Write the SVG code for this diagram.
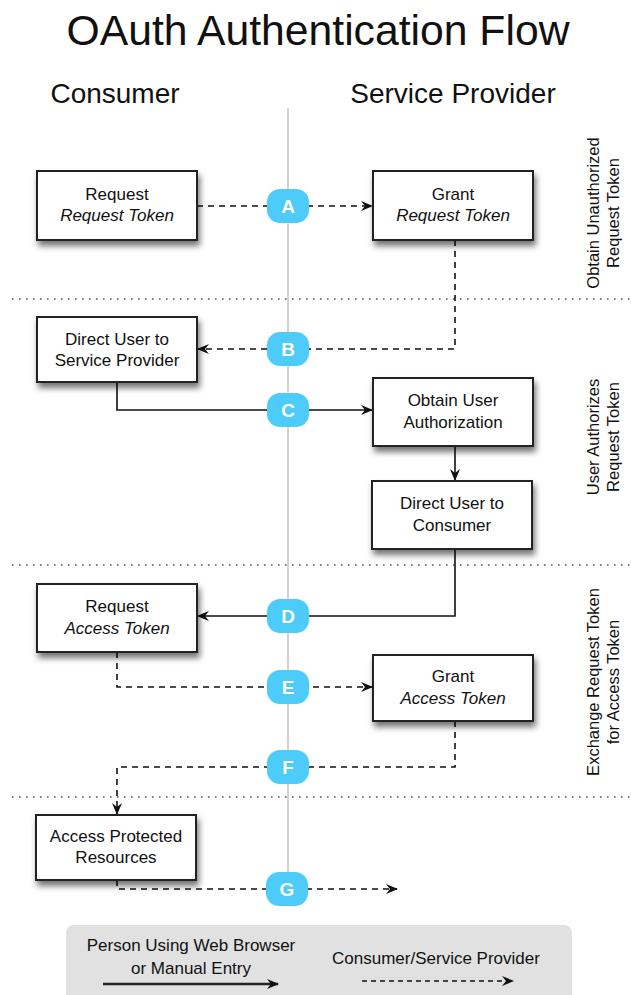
<svg xmlns="http://www.w3.org/2000/svg" width="631" height="995" viewBox="0 0 631 995">
<defs>
<filter id="sh" x="-20%" y="-20%" width="150%" height="160%">
<feDropShadow dx="2" dy="5" stdDeviation="3" flood-color="#000" flood-opacity="0.55"/>
</filter>
<marker id="ah" viewBox="0 0 12 10" markerWidth="12" markerHeight="10" refX="11" refY="5" orient="auto" markerUnits="userSpaceOnUse">
<path d="M0,0 L12,5 L0,10 L4,5 z" fill="#111"/>
</marker>
</defs>
<style>
text{font-family:"Liberation Sans",Arial,Helvetica,sans-serif;fill:#111}
.box{fill:#fff;stroke:#222;stroke-width:2;filter:url(#sh)}
.bt{font-size:17px;text-anchor:middle}
.it{font-style:italic}
.sep{stroke:#555;stroke-width:1.6;stroke-dasharray:1.6 5.4;fill:none}
.dash{fill:none;stroke:#111;stroke-width:1.6;stroke-dasharray:6 5}
.solid{fill:none;stroke:#111;stroke-width:1.6}
.pill{fill:#4DCCFA}
.pl{font-size:19px;font-weight:bold;fill:#fff;text-anchor:middle}
.side{font-size:16.5px;text-anchor:middle}
</style>
<text x="318" y="45" font-size="42" text-anchor="middle" textLength="503" lengthAdjust="spacingAndGlyphs">OAuth Authentication Flow</text>
<text x="115" y="103" font-size="28" text-anchor="middle">Consumer</text>
<text x="453" y="103" font-size="28" text-anchor="middle">Service Provider</text>
<line x1="288" y1="108" x2="288" y2="880" stroke="#d2d2d2" stroke-width="2"/>
<g id="separators">
<line class="sep" x1="12" y1="299" x2="631" y2="299"/>
<line class="sep" x1="12" y1="565" x2="631" y2="565"/>
<line class="sep" x1="12" y1="797" x2="631" y2="797"/>
</g>
<g id="phase-labels">
<text class="side" transform="translate(599,213) rotate(-90)">Obtain Unauthorized</text>
<text class="side" transform="translate(619,213) rotate(-90)">Request Token</text>
<text class="side" transform="translate(599,437) rotate(-90)">User Authorizes</text>
<text class="side" transform="translate(619,437) rotate(-90)">Request Token</text>
<text class="side" transform="translate(599,682) rotate(-90)">Exchange Request Token</text>
<text class="side" transform="translate(619,682) rotate(-90)">for Access Token</text>
</g>
<g id="connectors">
<path class="dash" d="M197,206 H372" marker-end="url(#ah)"/>
<path class="dash" d="M455,240 V349 H198" marker-end="url(#ah)"/>
<path class="solid" d="M117,382 V410 H372" marker-end="url(#ah)"/>
<path class="solid" d="M455,446 V480" marker-end="url(#ah)"/>
<path class="solid" d="M455,549 V616 H198" marker-end="url(#ah)"/>
<path class="dash" d="M117,652 V687 H372" marker-end="url(#ah)"/>
<path class="dash" d="M455,721 V767 H117 V814" marker-end="url(#ah)"/>
<path class="dash" d="M117,880 V889 H397" marker-end="url(#ah)"/>
</g>
<g id="labels">
<rect class="pill" x="267" y="189" width="42" height="34" rx="13"/><text class="pl" x="288" y="213">A</text>
<rect class="pill" x="267" y="332" width="42" height="34" rx="13"/><text class="pl" x="288" y="356">B</text>
<rect class="pill" x="267" y="393" width="42" height="34" rx="13"/><text class="pl" x="288" y="417">C</text>
<rect class="pill" x="267" y="599" width="42" height="34" rx="13"/><text class="pl" x="288" y="623">D</text>
<rect class="pill" x="267" y="670" width="42" height="34" rx="13"/><text class="pl" x="288" y="694">E</text>
<rect class="pill" x="267" y="750" width="42" height="34" rx="13"/><text class="pl" x="288" y="774">F</text>
<rect class="pill" x="266" y="872" width="42" height="34" rx="13"/><text class="pl" x="287" y="896">G</text>
</g>
<g id="request-request-token">
<rect class="box" x="37" y="171" width="160" height="69"/>
<text class="bt" x="117" y="200">Request</text>
<text class="bt it" x="117" y="221">Request Token</text>
</g>
<g id="grant-request-token">
<rect class="box" x="373" y="171" width="160" height="69"/>
<text class="bt" x="453" y="200">Grant</text>
<text class="bt it" x="453" y="221">Request Token</text>
</g>
<g id="direct-user-to-sp">
<rect class="box" x="37" y="317" width="160" height="65"/>
<text class="bt" x="117" y="345">Direct User to</text>
<text class="bt" x="117" y="366">Service Provider</text>
</g>
<g id="obtain-user-authorization">
<rect class="box" x="373" y="378" width="160" height="68"/>
<text class="bt" x="453" y="406">Obtain User</text>
<text class="bt" x="453" y="428">Authorization</text>
</g>
<g id="direct-user-to-consumer">
<rect class="box" x="372" y="481" width="160" height="68"/>
<text class="bt" x="452" y="509">Direct User to</text>
<text class="bt" x="452" y="531">Consumer</text>
</g>
<g id="request-access-token">
<rect class="box" x="37" y="584" width="160" height="68"/>
<text class="bt" x="117" y="612">Request</text>
<text class="bt it" x="117" y="634">Access Token</text>
</g>
<g id="grant-access-token">
<rect class="box" x="373" y="655" width="160" height="66"/>
<text class="bt" x="453" y="682">Grant</text>
<text class="bt it" x="453" y="704">Access Token</text>
</g>
<g id="access-protected-resources">
<rect class="box" x="36" y="815" width="160" height="65"/>
<text class="bt" x="116" y="842">Access Protected</text>
<text class="bt" x="116" y="863">Resources</text>
</g>
<g id="legend">
<rect x="66" y="925" width="506" height="80" rx="8" fill="#e1e1e1"/>
<text class="bt" x="191" y="951">Person Using Web Browser</text>
<text class="bt" x="191" y="974">or Manual Entry</text>
<path d="M103,984 H278" fill="none" stroke="#222" stroke-width="2.5" marker-end="url(#ah)"/>
<text class="bt" x="436" y="964">Consumer/Service Provider</text>
<path d="M362,981 H513" fill="none" stroke="#111" stroke-width="1.6" stroke-dasharray="5 4" marker-end="url(#ah)"/>
</g>
</svg>
